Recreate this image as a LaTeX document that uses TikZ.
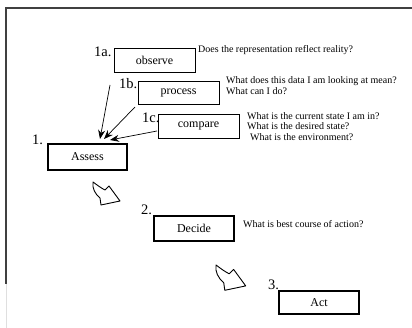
\documentclass[tikz,border=0pt]{standalone}
\usepackage{fontspec}
\setmainfont{Liberation Serif}
\usetikzlibrary{arrows.meta}
\begin{document}
\begin{tikzpicture}[x=1pt,y=-1pt,
  thinbox/.style={draw,line width=0.9pt,minimum width=81pt,minimum height=24pt,inner sep=0pt,font=\fontsize{12}{13}\selectfont},
  thickbox/.style={draw,line width=2.4pt,minimum width=79pt,minimum height=25pt,inner sep=0pt,font=\fontsize{12}{13}\selectfont},
  numlab/.style={anchor=base west,inner sep=0pt,font=\fontsize{14.5}{15}\selectfont},
  qtext/.style={anchor=base west,inner sep=0pt,font=\fontsize{10}{10}\selectfont},
  arr/.style={line width=0.7pt,-{Stealth[length=9pt,width=7pt]}},
  bent/.style={draw,line width=0.9pt,fill=white,line join=round},
  framel/.style={draw=black!75,line width=1.4pt}]
\useasboundingbox (0,0) rectangle (412,328);
% frame
\coordinate (fa) at (6,284);
\coordinate (fb) at (6,8);
\coordinate (fc) at (412,8);
\coordinate (fd) at (6,328);
\draw[framel,line join=miter] (fa) -- (fb) -- (fc);
\draw[gray!25,line width=1pt] (fa) -- (fd);
% boxes
\node[thinbox] (obs) at (154.5,60.5) {observe};
\node[thinbox,minimum width=81pt,minimum height=23pt] (proc) at (178.5,92.5) {process};
\node[thinbox,minimum width=81pt,minimum height=24pt] (comp) at (198.5,126) {compare};
\node[thickbox,minimum width=79pt,minimum height=26pt] (assess) at (87.5,157) {Assess};
\node[thickbox,minimum width=80pt,minimum height=25pt] (decide) at (194,228.5) {Decide};
\node[thickbox,minimum width=80pt,minimum height=23pt] (act) at (319,302.5) {Act};
% number labels
\node[numlab] (l1a) at (94,57) {1a.};
\node[numlab] (l1b) at (119,88.5) {1b.};
\node[numlab] (l1c) at (142,123) {1c.};
\node[numlab] (l1) at (32,145) {1.};
\node[numlab] (l2) at (141,214.5) {2.};
\node[numlab] (l3) at (268,290) {3.};
% questions
\node[qtext] (q1) at (198,52.5) {Does the representation reflect reality?};
\node[qtext] (q2) at (226,84) {What does this data I am looking at mean?};
\node[qtext] (q3) at (226,94.5) {What can I do?};
\node[qtext] (q4) at (247,120) {What is the current state I am in?};
\node[qtext] (q5) at (247,130) {What is the desired state?};
\node[qtext] (q6) at (250,140.5) {What is the environment?};
\node[qtext] (q7) at (243,228) {What is best course of action?};
% converging arrows
\coordinate (s1) at (110,85);
\coordinate (s2) at (135,107);
\coordinate (s3) at (157,131);
\coordinate (t1) at (100,139);
\coordinate (t2) at (104,139);
\coordinate (t3) at (110,140);
\draw[arr] (s1) -- (t1);
\draw[arr] (s2) -- (t2);
\draw[arr] (s3) -- (t3);
% bent block arrows
\begin{scope}[shift={(93,182)}]
\draw[bent] (0,0) .. controls (4,3) and (8,6) .. (12,8) -- (16,4) -- (27,19) -- (8,23) -- (7,16) .. controls (2,12) and (-1,6) .. cycle;
\end{scope}
\begin{scope}[shift={(216,265)},scale=1.1]
\draw[bent] (0,0) .. controls (4,3) and (8,6) .. (12,8) -- (16,4) -- (27,19) -- (8,23) -- (7,16) .. controls (2,12) and (-1,6) .. cycle;
\end{scope}
\end{tikzpicture}
\end{document}
